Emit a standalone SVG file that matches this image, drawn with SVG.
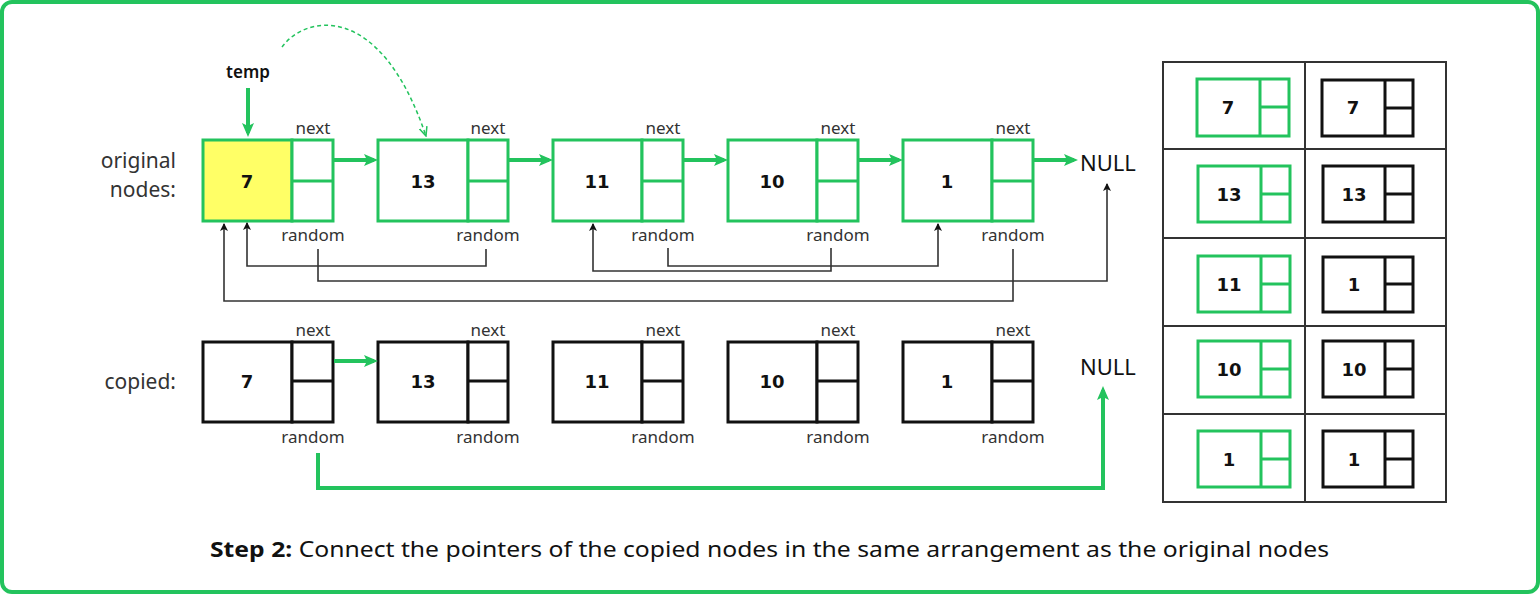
<svg xmlns="http://www.w3.org/2000/svg" width="1540" height="594" viewBox="0 0 1540 594">
<style>
.frame{fill:#fff;stroke:#23c35d;stroke-width:4}
.gbox{fill:#fff;stroke:#23c35d;stroke-width:3}
.bbox{fill:#fff;stroke:#111;stroke-width:3}
.gln{stroke:#23c35d;stroke-width:3;fill:none}
.bln{stroke:#111;stroke-width:3;fill:none}
.val{font-family:"DejaVu Sans",sans-serif;font-weight:bold;font-size:18px;fill:#111;text-anchor:middle}
.lbl{font-family:"Noto Sans",sans-serif;font-size:17px;fill:#333;text-anchor:middle}
.big{font-family:"Noto Sans",sans-serif;font-size:21px;fill:#333}
.null{font-family:"Noto Sans",sans-serif;font-size:22px;fill:#111}
.nextarrow{stroke:#23c35d;stroke-width:4;fill:none;marker-end:url(#ga)}
.rnd{stroke:#333;stroke-width:1.6;fill:none;marker-end:url(#ba)}
.tbl{stroke:#333;stroke-width:2;fill:#fff}
.tline{stroke:#333;stroke-width:2}
</style>
<defs>
<marker id="ga" markerUnits="userSpaceOnUse" viewBox="0 0 14 12" refX="10" refY="6" markerWidth="14" markerHeight="12" orient="auto"><path d="M0,0 L14,6 L0,12 L3,6 z" fill="#23c35d"/></marker>
<marker id="ba" markerUnits="userSpaceOnUse" viewBox="0 0 8 8" refX="7" refY="4" markerWidth="8" markerHeight="8" orient="auto"><path d="M0,0 L8,4 L0,8 L2,4 z" fill="#111"/></marker>
<marker id="da" markerUnits="userSpaceOnUse" viewBox="0 0 10 10" refX="9" refY="5" markerWidth="10" markerHeight="10" orient="auto"><path d="M0,1 L9,5 L0,9" fill="none" stroke="#23c35d" stroke-width="1.5"/></marker>
</defs>
<rect class="frame" x="2" y="2" width="1536" height="590" rx="10"/>

<!-- labels -->
<g id="labels">
<text class="big" x="176" y="168" text-anchor="end">original</text>
<text class="big" x="176" y="197" text-anchor="end">nodes:</text>
<text class="big" x="176" y="389" text-anchor="end">copied:</text>
<text x="248" y="78" font-family="Noto Sans, sans-serif" font-size="17" font-weight="600" fill="#111" text-anchor="middle">temp</text>
<text class="null" x="1080" y="171">NULL</text>
<text class="null" x="1080" y="375">NULL</text>
</g>

<!-- original nodes -->
<g id="o7"><rect x="203" y="140" width="89" height="81" fill="#ffff66" stroke="#23c35d" stroke-width="3"/><rect class="gbox" x="292" y="140" width="41" height="81"/><line class="gln" x1="292" y1="181" x2="333" y2="181"/><text class="val" x="247" y="188">7</text><text class="lbl" x="313" y="134">next</text><text class="lbl" x="313" y="241">random</text></g>
<g id="o13"><rect class="gbox" x="378" y="140" width="90" height="81"/><rect class="gbox" x="468" y="140" width="40" height="81"/><line class="gln" x1="468" y1="181" x2="508" y2="181"/><text class="val" x="423" y="188">13</text><text class="lbl" x="488" y="134">next</text><text class="lbl" x="488" y="241">random</text></g>
<g id="o11"><rect class="gbox" x="553" y="140" width="89" height="81"/><rect class="gbox" x="642" y="140" width="41" height="81"/><line class="gln" x1="642" y1="181" x2="683" y2="181"/><text class="val" x="597" y="188">11</text><text class="lbl" x="663" y="134">next</text><text class="lbl" x="663" y="241">random</text></g>
<g id="o10"><rect class="gbox" x="728" y="140" width="89" height="81"/><rect class="gbox" x="817" y="140" width="41" height="81"/><line class="gln" x1="817" y1="181" x2="858" y2="181"/><text class="val" x="772" y="188">10</text><text class="lbl" x="838" y="134">next</text><text class="lbl" x="838" y="241">random</text></g>
<g id="o1"><rect class="gbox" x="903" y="140" width="89" height="81"/><rect class="gbox" x="992" y="140" width="41" height="81"/><line class="gln" x1="992" y1="181" x2="1033" y2="181"/><text class="val" x="947" y="188">1</text><text class="lbl" x="1013" y="134">next</text><text class="lbl" x="1013" y="241">random</text></g>

<!-- copied nodes -->
<g id="c7"><rect class="bbox" x="203" y="342" width="89" height="80"/><rect class="bbox" x="292" y="342" width="41" height="80"/><line class="bln" x1="292" y1="381" x2="333" y2="381"/><text class="val" x="247" y="388">7</text><text class="lbl" x="313" y="336">next</text><text class="lbl" x="313" y="443">random</text></g>
<g id="c13"><rect class="bbox" x="378" y="342" width="90" height="80"/><rect class="bbox" x="468" y="342" width="40" height="80"/><line class="bln" x1="468" y1="381" x2="508" y2="381"/><text class="val" x="423" y="388">13</text><text class="lbl" x="488" y="336">next</text><text class="lbl" x="488" y="443">random</text></g>
<g id="c11"><rect class="bbox" x="553" y="342" width="89" height="80"/><rect class="bbox" x="642" y="342" width="41" height="80"/><line class="bln" x1="642" y1="381" x2="683" y2="381"/><text class="val" x="597" y="388">11</text><text class="lbl" x="663" y="336">next</text><text class="lbl" x="663" y="443">random</text></g>
<g id="c10"><rect class="bbox" x="728" y="342" width="89" height="80"/><rect class="bbox" x="817" y="342" width="41" height="80"/><line class="bln" x1="817" y1="381" x2="858" y2="381"/><text class="val" x="772" y="388">10</text><text class="lbl" x="838" y="336">next</text><text class="lbl" x="838" y="443">random</text></g>
<g id="c1"><rect class="bbox" x="903" y="342" width="89" height="80"/><rect class="bbox" x="992" y="342" width="41" height="80"/><line class="bln" x1="992" y1="381" x2="1033" y2="381"/><text class="val" x="947" y="388">1</text><text class="lbl" x="1013" y="336">next</text><text class="lbl" x="1013" y="443">random</text></g>

<!-- connectors -->
<g id="connectors">
<line class="nextarrow" x1="248" y1="88" x2="248" y2="133"/>
<path d="M282,47 C305,15 380,0 426,136" stroke="#23c35d" stroke-width="1.5" stroke-dasharray="4,3" fill="none" marker-end="url(#da)"/>
<line class="nextarrow" x1="334" y1="160" x2="374" y2="160"/>
<line class="nextarrow" x1="509" y1="160" x2="549" y2="160"/>
<line class="nextarrow" x1="684" y1="160" x2="724" y2="160"/>
<line class="nextarrow" x1="859" y1="160" x2="899" y2="160"/>
<line class="nextarrow" x1="1034" y1="160" x2="1074" y2="160"/>
<path class="rnd" d="M486,249 V266 H247 V223"/>
<path class="rnd" d="M318,249 V281 H1107 V184"/>
<path class="rnd" d="M1013,249 V301 H224 V224"/>
<path class="rnd" d="M668,248 V266 H938 V224"/>
<path class="rnd" d="M831,248 V271 H593 V224"/>
<line class="nextarrow" x1="334" y1="361" x2="374" y2="361"/>
<path class="nextarrow" d="M318,453 V488 H1103 V390"/>
</g>

<!-- table -->
<g id="table">
<rect class="tbl" x="1163" y="62" width="283" height="440"/>
<line class="tline" x1="1305" y1="62" x2="1305" y2="502"/>
<line class="tline" x1="1163" y1="149" x2="1446" y2="149"/>
<line class="tline" x1="1163" y1="238" x2="1446" y2="238"/>
<line class="tline" x1="1163" y1="326" x2="1446" y2="326"/>
<line class="tline" x1="1163" y1="414" x2="1446" y2="414"/>
</g>
<g id="t1"><rect class="gbox" x="1197" y="79" width="92" height="57"/><line class="gln" x1="1260" y1="79" x2="1260" y2="136"/><line class="gln" x1="1260" y1="107" x2="1289" y2="107"/><text class="val" x="1228" y="114">7</text>
<rect class="bbox" x="1322" y="80" width="91" height="56"/><line class="bln" x1="1385" y1="80" x2="1385" y2="136"/><line class="bln" x1="1385" y1="108" x2="1413" y2="108"/><text class="val" x="1353" y="114">7</text></g>
<g id="t2"><rect class="gbox" x="1198" y="166" width="92" height="56"/><line class="gln" x1="1261" y1="166" x2="1261" y2="222"/><line class="gln" x1="1261" y1="194" x2="1290" y2="194"/><text class="val" x="1229" y="201">13</text>
<rect class="bbox" x="1323" y="166" width="90" height="56"/><line class="bln" x1="1385" y1="166" x2="1385" y2="222"/><line class="bln" x1="1385" y1="194" x2="1413" y2="194"/><text class="val" x="1354" y="201">13</text></g>
<g id="t3"><rect class="gbox" x="1198" y="256" width="92" height="56"/><line class="gln" x1="1261" y1="256" x2="1261" y2="312"/><line class="gln" x1="1261" y1="284" x2="1290" y2="284"/><text class="val" x="1229" y="291">11</text>
<rect class="bbox" x="1323" y="257" width="90" height="55"/><line class="bln" x1="1385" y1="257" x2="1385" y2="312"/><line class="bln" x1="1385" y1="284" x2="1413" y2="284"/><text class="val" x="1354" y="291">1</text></g>
<g id="t4"><rect class="gbox" x="1198" y="341" width="92" height="56"/><line class="gln" x1="1261" y1="341" x2="1261" y2="397"/><line class="gln" x1="1261" y1="369" x2="1290" y2="369"/><text class="val" x="1229" y="376">10</text>
<rect class="bbox" x="1323" y="341" width="90" height="56"/><line class="bln" x1="1385" y1="341" x2="1385" y2="397"/><line class="bln" x1="1385" y1="369" x2="1413" y2="369"/><text class="val" x="1354" y="376">10</text></g>
<g id="t5"><rect class="gbox" x="1198" y="431" width="92" height="56"/><line class="gln" x1="1261" y1="431" x2="1261" y2="487"/><line class="gln" x1="1261" y1="459" x2="1290" y2="459"/><text class="val" x="1229" y="466">1</text>
<rect class="bbox" x="1323" y="431" width="90" height="56"/><line class="bln" x1="1385" y1="431" x2="1385" y2="487"/><line class="bln" x1="1385" y1="459" x2="1413" y2="459"/><text class="val" x="1354" y="466">1</text></g>

<g id="caption">
<text x="210" y="557" font-family="Noto Sans, sans-serif" font-size="22" fill="#111" textLength="1119" lengthAdjust="spacingAndGlyphs"><tspan font-weight="bold">Step 2:</tspan> Connect the pointers of the copied nodes in the same arrangement as the original nodes</text>
</g>
</svg>
